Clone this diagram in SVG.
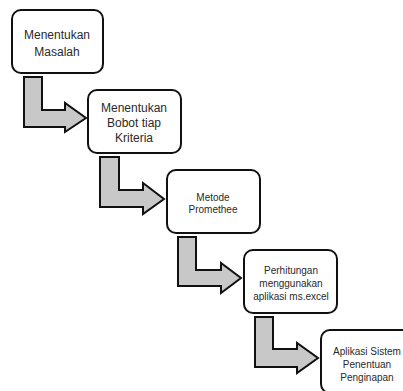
<svg xmlns="http://www.w3.org/2000/svg" width="403" height="391" viewBox="0 0 403 391">
  <style>
    .box { fill: #ffffff; stroke: #111111; stroke-width: 2; }
    .arrow { fill: #c8c8c8; stroke: #111111; stroke-width: 2; stroke-linejoin: miter; }
    .t12 { font-family: "Liberation Sans", Arial, sans-serif; font-size: 12px; fill: #2a2a2a; text-anchor: middle; }
    .t10 { font-family: "Liberation Sans", Arial, sans-serif; font-size: 10px; fill: #2a2a2a; text-anchor: middle; }
  </style>
  <rect width="403" height="391" fill="#ffffff"/>
  <g id="connectors">
    <path class="arrow" d="M24,77 H42 V110 H65 V103 L86,118 L65,132 V127 H24 Z"/>
    <path class="arrow" d="M100,157 H119 V190 H143 V183 L164,199 L143,214 V207 H100 Z"/>
    <path class="arrow" d="M178,237 H196 V270 H221 V263 L241,278 L221,293 V286 H178 Z"/>
    <path class="arrow" d="M255,317 H273 V349 H297 V343 L318,358 L297,373 V367 H255 Z"/>
  </g>
  <g id="node1">
    <rect class="box" x="12" y="10" width="91" height="63" rx="9"/>
    <text class="t12" x="57" y="39">Menentukan</text>
    <text class="t12" x="57" y="56">Masalah</text>
  </g>
  <g id="node2">
    <rect class="box" x="88" y="90" width="93" height="63" rx="9"/>
    <text class="t12" x="134" y="112">Menentukan</text>
    <text class="t12" x="134" y="127">Bobot tiap</text>
    <text class="t12" x="134" y="142">Kriteria</text>
  </g>
  <g id="node3">
    <rect class="box" x="167" y="170" width="93" height="63" rx="9"/>
    <text class="t10" x="213" y="201">Metode</text>
    <text class="t10" x="213" y="213">Promethee</text>
  </g>
  <g id="node4">
    <rect class="box" x="244" y="250" width="93" height="63" rx="9"/>
    <text class="t10" x="291" y="274">Perhitungan</text>
    <text class="t10" x="291" y="287">menggunakan</text>
    <text class="t10" x="291" y="300">aplikasi ms.excel</text>
  </g>
  <g id="node5">
    <rect class="box" x="321" y="330" width="93" height="63" rx="9"/>
    <text class="t10" x="367" y="355">Aplikasi Sistem</text>
    <text class="t10" x="367" y="368">Penentuan</text>
    <text class="t10" x="367" y="381">Penginapan</text>
  </g>
</svg>
